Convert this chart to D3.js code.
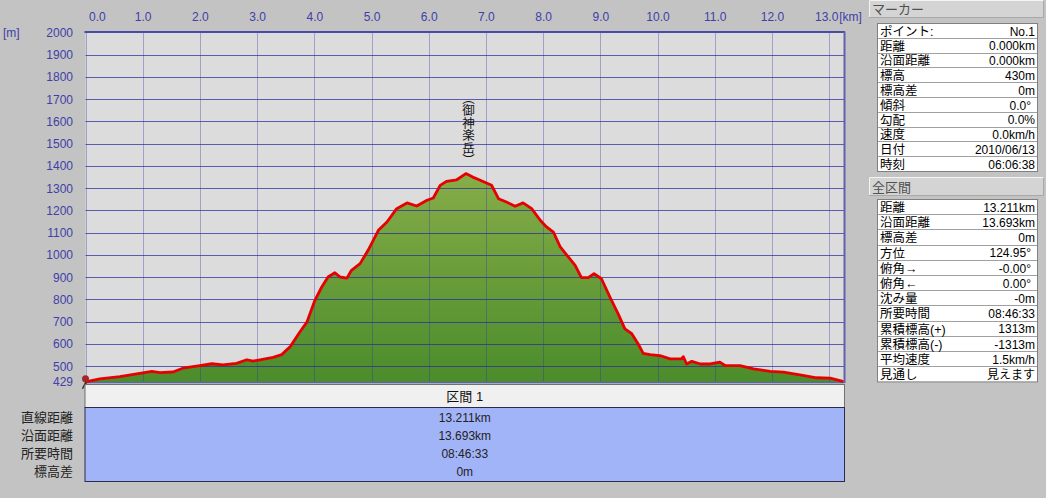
<!DOCTYPE html>
<html><head><meta charset="utf-8">
<script src="https://cdn.jsdelivr.net/npm/d3@7"></script>
<style>
html,body{margin:0;padding:0;background:#c3c3c3;overflow:hidden;}
svg{display:block;}
text{font-family:"Liberation Sans","Noto Sans CJK JP",sans-serif;}
</style></head><body>
<svg id="c" width="1046" height="498"></svg>
<script>
// ---- data ----
const distKm = [0.00,0.25,0.60,0.95,1.16,1.30,1.53,1.70,2.00,2.21,2.40,2.64,2.82,2.93,3.05,3.28,3.43,3.58,3.75,3.87,4.01,4.13,4.24,4.36,4.45,4.57,4.65,4.80,4.94,5.12,5.27,5.44,5.62,5.79,5.97,6.08,6.20,6.31,6.49,6.65,6.77,6.90,7.10,7.22,7.36,7.51,7.65,7.80,7.95,8.06,8.18,8.30,8.44,8.56,8.67,8.79,8.89,9.02,9.17,9.31,9.43,9.55,9.66,9.75,9.87,10.04,10.22,10.42,10.45,10.51,10.60,10.75,10.92,11.09,11.18,11.44,11.68,11.97,12.20,12.49,12.78,13.02,13.19,13.25];
const elevM  = [430,443,453,468,477,471,474,491,503,511,506,513,529,523,529,540,552,588,655,698,796,856,901,920,901,896,931,961,1021,1111,1148,1208,1234,1220,1246,1256,1313,1331,1338,1366,1350,1336,1313,1253,1238,1219,1234,1208,1156,1126,1103,1036,991,953,898,898,916,893,810,736,668,646,601,558,552,548,533,533,543,510,522,510,510,518,503,503,488,477,473,461,448,446,435,431];
const xTicks = [0,1,2,3,4,5,6,7,8,9,10,11,12,13];
const yTicks = [429,500,600,700,800,900,1000,1100,1200,1300,1400,1500,1600,1700,1800,1900,2000];
const xUnit = "[km]";
const yUnit = "[m]";
const peakLabel = "（御神楽岳）";
const peakKm = 6.65;
const markerTitle = "マーカー";
const markerLabels = ["ポイント:","距離","沿面距離","標高","標高差","傾斜","勾配","速度","日付","時刻"];
const markerValues = ["No.1","0.000km","0.000km","430m","0m","0.0°","0.0%","0.0km/h","2010/06/13","06:06:38"];
const totalTitle = "全区間";
const totalLabels = ["距離","沿面距離","標高差","方位","俯角→","俯角←","沈み量","所要時間","累積標高(+)","累積標高(-)","平均速度","見通し"];
const totalValues = ["13.211km","13.693km","0m","124.95°","-0.00°","0.00°","-0m","08:46:33","1313m","-1313m","1.5km/h","見えます"];
const segName = "区間 1";
const segLabels = ["直線距離","沿面距離","所要時間","標高差"];
const segValues = ["13.211km","13.693km","08:46:33","0m"];

// ---- layout ----
const L = 85.5, R = 844, T = 32.5, B = 382;
const svg = d3.select("#c");
const x = d3.scaleLinear().domain([0, 13.26]).range([L, R]);
const y = d3.scaleLinear().domain([429, 2000]).range([B, T]);
const pts = distKm.map((d,i)=>[d, elevM[i]]);

svg.append("rect").attr("x",L).attr("y",T).attr("width",R-L).attr("height",B-T).attr("fill","#dcdcdc");

const defs = svg.append("defs");
const grad = defs.append("linearGradient").attr("id","g").attr("gradientUnits","userSpaceOnUse")
  .attr("x1",0).attr("x2",0).attr("y1",y(1366)).attr("y2",B);
grad.append("stop").attr("offset",0).attr("stop-color","#86ad48");
grad.append("stop").attr("offset",1).attr("stop-color","#4b8c2b");

svg.append("path").datum(pts)
  .attr("d", d3.area().x(d=>x(d[0])).y0(B).y1(d=>y(d[1])))
  .attr("fill","url(#g)");

const grid = svg.append("g");
grid.selectAll("line.h").data(yTicks.filter(v=>v!==429 && v!==2000)).join("line")
  .attr("x1",L).attr("x2",R).attr("y1",d=>Math.round(y(d))+0.5).attr("y2",d=>Math.round(y(d))+0.5)
  .attr("stroke","#2a2aa0").attr("stroke-opacity",0.72).attr("stroke-width",1);
grid.selectAll("line.v").data(xTicks).join("line")
  .attr("x1",d=>Math.round(x(d))+0.5).attr("x2",d=>Math.round(x(d))+0.5).attr("y1",T).attr("y2",B)
  .attr("stroke","#3030a8").attr("stroke-opacity",0.7).attr("stroke-dasharray","1,1").attr("stroke-width",1);

svg.append("line").attr("x1",L-1).attr("x2",R+1).attr("y1",T-0.5).attr("y2",T-0.5).attr("stroke","#4a4aa8").attr("stroke-width",2);
svg.append("line").attr("x1",R+0.5).attr("x2",R+0.5).attr("y1",T-1).attr("y2",B+1).attr("stroke","#6060b0").attr("stroke-width",2);
svg.append("line").attr("x1",L).attr("x2",R).attr("y1",B+0.5).attr("y2",B+0.5).attr("stroke","#5a6aa0").attr("stroke-width",1.5);

svg.append("path").datum(pts)
  .attr("d", d3.line().x(d=>x(d[0])).y(d=>y(d[1])))
  .attr("fill","none").attr("stroke","#e60000").attr("stroke-width",2.8).attr("stroke-linejoin","round");

const sx = x(distKm[0]), sy = y(elevM[0]);
svg.append("circle").attr("cx",sx).attr("cy",sy-3).attr("r",3.5).attr("fill","#a02828");
svg.append("path").attr("d",`M${sx-3},${sy+7}L${sx},${sy+1}L${sx+3},${sy+7}`).attr("stroke","#403020").attr("stroke-width",1.5).attr("fill","none");

const axColor = "#4040a8";
const xAx = svg.append("g").attr("transform","translate(0,21)")
  .call(d3.axisTop(x).tickValues(xTicks).tickSize(0).tickPadding(0).tickFormat(d3.format(".1f")));
xAx.select(".domain").remove();
xAx.selectAll("text").attr("fill",axColor).style("font-size","12px")
  .attr("text-anchor",d=>d===0?"start":"middle").attr("dx",d=>d===0?(L+3-x(0)):(d===13?-3:0));
svg.append("text").attr("x",x(13)+10).attr("y",21).attr("fill",axColor).style("font-size","12px").text(xUnit);

const yAx = svg.append("g").attr("transform","translate(76,0)")
  .call(d3.axisLeft(y).tickValues(yTicks).tickSize(0).tickPadding(3).tickFormat(d3.format("d")));
yAx.select(".domain").remove();
yAx.attr("font-family",null).attr("font-size",null);
xAx.attr("font-family",null).attr("font-size",null);
yAx.selectAll("text").attr("fill",axColor).style("font-size","12px");
svg.append("text").attr("x",3).attr("y",T+4).attr("fill",axColor).style("font-size","12px").text(yUnit);

svg.append("text").attr("x",x(peakKm)+1).attr("y",y(1366)-82)
  .attr("writing-mode","vertical-rl").style("writing-mode","vertical-rl")
  .attr("fill","#111").style("font-size","12.5px").text(peakLabel);

svg.append("rect").attr("x",L-0.5).attr("y",384.5).attr("width",R-L+1).attr("height",23).attr("fill","#f0f0f0").attr("stroke","#707070");
svg.append("text").attr("x",(L+R)/2).attr("y",396).attr("dy","0.35em").attr("text-anchor","middle").attr("fill","#111").style("font-size","13px").text(segName);
svg.append("rect").attr("x",L-0.5).attr("y",407.5).attr("width",R-L+1).attr("height",74).attr("fill","#a2b4f8").attr("stroke","#2c2c48");
svg.selectAll("text.sv").data(segValues).join("text").attr("class","sv")
  .attr("x",(L+R)/2).attr("y",(d,i)=>417.5+i*18.1).attr("dy","0.35em").attr("text-anchor","middle")
  .attr("fill","#222").style("font-size","12px").text(d=>d);
svg.selectAll("text.sl").data(segLabels).join("text").attr("class","sl")
  .attr("x",73).attr("y",(d,i)=>417.5+i*18.1).attr("dy","0.35em").attr("text-anchor","end")
  .attr("fill","#222").style("font-size","13px").text(d=>d);

function header(y0, h, title){
  svg.append("rect").attr("x",869.5).attr("y",y0+0.5).attr("width",174).attr("height",h).attr("fill","#d4d4d4").attr("stroke","#a8a8a8");
  svg.append("line").attr("x1",869.5).attr("x2",1043.5).attr("y1",y0+0.5).attr("y2",y0+0.5).attr("stroke","#f4f4f4");
  svg.append("line").attr("x1",869.5).attr("x2",869.5).attr("y1",y0+0.5).attr("y2",y0+h).attr("stroke","#f4f4f4");
  svg.append("text").attr("x",872).attr("y",y0+h/2+1).attr("dy","0.35em").attr("fill","#505050").style("font-size","13px").text(title);
}
function table(y0, rh, labels, values){
  const g = svg.append("g");
  const h = rh*labels.length;
  g.append("rect").attr("x",877.5).attr("y",y0+0.5).attr("width",160).attr("height",h).attr("fill","#ffffff").attr("stroke","#808080");
  g.selectAll("line").data(labels.slice(1)).join("line")
    .attr("x1",878).attr("x2",1037).attr("y1",(d,i)=>Math.round(y0+(i+1)*rh)+0.5).attr("y2",(d,i)=>Math.round(y0+(i+1)*rh)+0.5)
    .attr("stroke","#a0a0a0");
  g.selectAll("text.l").data(labels).join("text").attr("class","l")
    .attr("x",880).attr("y",(d,i)=>y0+(i+0.5)*rh+1).attr("dy","0.35em").attr("fill","#000").style("font-size","12.5px").text(d=>d);
  g.selectAll("text.v").data(values).join("text").attr("class","v")
    .attr("x",d=>d.endsWith("°")?1031:1035).attr("y",(d,i)=>y0+(i+0.5)*rh+1).attr("dy","0.35em").attr("text-anchor","end")
    .attr("fill","#000").style("font-size","12px").text(d=>d);
}
header(0, 17, markerTitle);
table(23, 14.8, markerLabels, markerValues);
header(177, 18, totalTitle);
table(199, 15.2, totalLabels, totalValues);
</script>
</body></html>
